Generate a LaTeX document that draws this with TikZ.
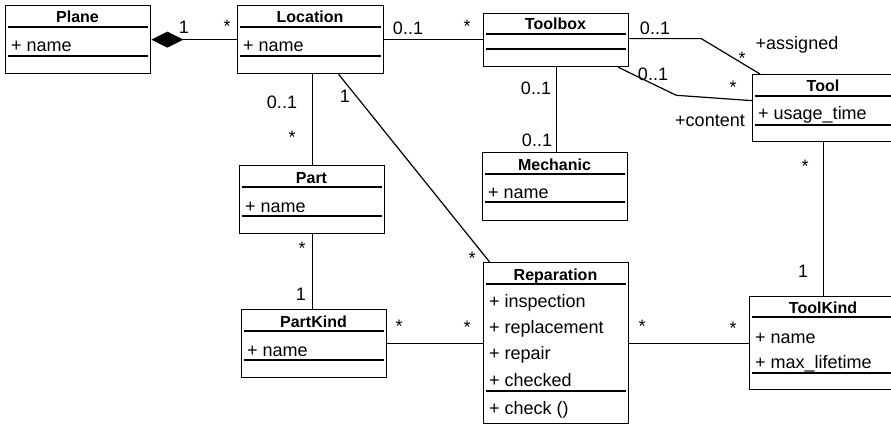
\documentclass[tikz,border=0pt]{standalone}
\usepackage{fontspec}
\setmainfont{Liberation Sans}
\usetikzlibrary{arrows.meta}

\tikzset{
  cls/.style={draw, rectangle, line width=1.3pt, inner sep=0pt},
  sepline/.style={line width=1.3pt},
  ttl/.style={font=\fontsize{16}{18}\selectfont\bfseries, anchor=base, inner sep=0pt},
  attr/.style={font=\fontsize{18}{20}\selectfont, anchor=base west, inner sep=0pt},
  lbl/.style={font=\fontsize{18}{20}\selectfont, inner sep=0pt},
  assoc/.style={line width=1.2pt},
}

% #1 name, #2 left, #3 top, #4 right, #5 bottom, #6 first separator, #7 second separator, #8 title
\newcommand\umlclass[8]{%
  \node[cls, minimum width={#4-#2}, minimum height={#5-#3}, anchor=north west] (#1) at (#2,#3) {};
  \draw[sepline] ({#2+2.5},#6) -- ({#4-2.5},#6);
  \draw[sepline] ({#2+2.5},#7) -- ({#4-2.5},#7);
  \node[ttl] (#1-title) at ({(#2+#4)/2},{#6-4}) {#8};
}

\begin{document}
\begin{tikzpicture}[x=1pt, y=-1pt]
  \path[use as bounding box, clip] (0,0) rectangle (891,425);
  \fill[white] (0,0) rectangle (891,425);

  % classes
  \umlclass{plane}{5}{5}{150}{73}{27}{56}{Plane}
  \umlclass{location}{237}{5}{383}{73}{27}{56}{Location}
  \umlclass{toolbox}{483}{13}{628}{66}{34}{49}{Toolbox}
  \umlclass{tool}{752}{74}{894}{141}{96}{125}{Tool}
  \umlclass{mechanic}{482}{152}{627}{220}{174}{202}{Mechanic}
  \umlclass{part}{239}{165}{384}{233}{187}{216}{Part}
  \umlclass{partkind}{241}{309}{386}{377}{331}{360}{PartKind}
  \umlclass{reparation}{483}{262}{628}{423}{284}{391}{Reparation}
  \umlclass{toolkind}{749}{296}{897}{389}{317}{373}{ToolKind}

  % attributes and operations
  \node[attr] (plane-a1) at (11,52) {+ name};
  \node[attr] (location-a1) at (243,52) {+ name};
  \node[attr] (tool-a1) at (758,120) {+ usage\_time};
  \node[attr] (mechanic-a1) at (488,198) {+ name};
  \node[attr] (part-a1) at (245,212) {+ name};
  \node[attr] (partkind-a1) at (247,356) {+ name};
  \node[attr] (reparation-a1) at (489,307) {+ inspection};
  \node[attr] (reparation-a2) at (489,333) {+ replacement};
  \node[attr] (reparation-a3) at (489,359) {+ repair};
  \node[attr] (reparation-a4) at (489,386) {+ checked};
  \node[attr] (reparation-o1) at (489,414) {+ check ()};
  \node[attr] (toolkind-a1) at (755,343) {+ name};
  \node[attr] (toolkind-a2) at (755,368) {+ max\_lifetime};

  % associations
  \draw[assoc, -{Diamond[length=32pt, width=16pt, fill=black]}] (location.west) -- (plane.east);
  \draw[assoc] (location.east) -- (location.east -| toolbox.west);
  \draw[assoc] ([yshift=1.5pt]toolbox.east) -- ++(72,0) -- ([xshift=8pt]tool.north west);
  \draw[assoc] ([xshift=-11pt]toolbox.south east) -- ++(58,28) -- ([yshift=7.5pt]tool.west);
  \draw[assoc] (toolbox.south) -- (toolbox.south |- mechanic.north);
  \draw[assoc] (part.north) -- (part.north |- location.south);
  \draw[assoc] ([xshift=28pt]location.south) -- ([xshift=-66.5pt]reparation.north);
  \draw[assoc] (part.south) -- (part.south |- partkind.north);
  \draw[assoc] (partkind.east) -- (partkind.east -| reparation.west);
  \draw[assoc] (reparation.east) -- (reparation.east -| toolkind.west);
  \draw[assoc] (tool.south) -- (tool.south |- toolkind.north);

  % multiplicities and role names
  \node[lbl] (m1) at (184,27) {1};
  \node[lbl] (m2) at (227,26) {*};
  \node[lbl] (m3) at (408,28) {0..1};
  \node[lbl] (m4) at (467,26) {*};
  \node[lbl] (m5) at (655,28) {0..1};
  \node[lbl] (m6) at (742,58) {*};
  \node[lbl] (r1) at (797,45) {+assigned};
  \node[lbl] (m7) at (653,74) {0..1};
  \node[lbl] (m8) at (733,87) {*};
  \node[lbl] (r2) at (710,121) {+content};
  \node[lbl] (m9) at (536,88) {0..1};
  \node[lbl] (m10) at (537,140) {0..1};
  \node[lbl] (m11) at (282,102) {0..1};
  \node[lbl] (m12) at (292,137) {*};
  \node[lbl] (m13) at (345,96) {1};
  \node[lbl] (m14) at (472,258) {*};
  \node[lbl] (m15) at (302,248) {*};
  \node[lbl] (m16) at (301,294) {1};
  \node[lbl] (m17) at (399,326) {*};
  \node[lbl] (m18) at (467,327) {*};
  \node[lbl] (m19) at (642,326) {*};
  \node[lbl] (m20) at (733,328) {*};
  \node[lbl] (m21) at (805,166) {*};
  \node[lbl] (m22) at (803,271) {1};
\end{tikzpicture}
\end{document}
